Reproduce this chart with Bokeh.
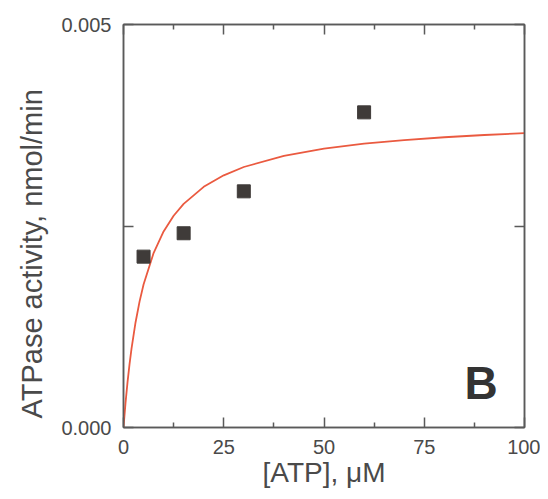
from bokeh.plotting import figure
from bokeh.models import (LinearAxis, FixedTicker, CustomJSTickFormatter, Range1d,
                          Label, Title, ColumnDataSource)
from bokeh.embed import file_html
from bokeh.resources import INLINE

# Measured data points
atp_um = [5, 15, 30, 60]
activity = [0.00212, 0.00241, 0.00293, 0.00391]

# Fitted curve
curve_x = [0, 0.5, 1, 1.5, 2, 3, 4, 5, 7.5, 10, 12.5, 15, 20, 25, 30, 40, 50, 60, 70, 80, 90, 100]
curve_y = [0.0, 0.000302, 0.000560, 0.000784, 0.000979, 0.001303, 0.001562, 0.001774,
           0.002164, 0.002432, 0.002627, 0.002775, 0.002986, 0.003129, 0.003232,
           0.003370, 0.003459, 0.003521, 0.003566, 0.003601, 0.003629, 0.003652]

x_major = [0, 25, 50, 75, 100]
x_minor = [12.5, 37.5, 62.5, 87.5]
y_major = [0, 0.0025, 0.005]

FONT = "Liberation Sans"
TXT = "#4a4a4a"
AX = "#5a5a5a"

p = figure(width=540, height=491, output_backend="svg", toolbar_location=None,
           x_range=Range1d(0, 100), y_range=Range1d(0, 0.005),
           x_axis_location=None, y_axis_location=None,
           min_border_left=123, min_border_right=16, min_border_top=24, min_border_bottom=64,
           frame_width=401, frame_height=403)
p.grid.visible = False
p.outline_line_color = AX
p.outline_line_width = 1.5
p.background_fill_color = "white"
p.border_fill_color = "white"

xt = FixedTicker(ticks=x_major, minor_ticks=x_minor)
yt = FixedTicker(ticks=y_major, minor_ticks=[])
yfmt = CustomJSTickFormatter(code="""
if (Math.abs(tick) < 1e-9) return '0.000';
if (Math.abs(tick - 0.005) < 1e-9) return '0.005';
return '';
""")

def style(ax, show_labels):
    ax.axis_line_color = AX
    ax.axis_line_width = 1.5
    ax.major_tick_line_color = AX
    ax.minor_tick_line_color = AX
    ax.major_tick_line_width = 1.5
    ax.minor_tick_line_width = 1.5
    ax.major_tick_in = 10
    ax.major_tick_out = 0
    ax.minor_tick_in = 5
    ax.minor_tick_out = 0
    ax.major_label_text_font = FONT
    ax.major_label_text_color = TXT
    ax.axis_label_text_font = FONT
    ax.axis_label_text_color = TXT
    ax.axis_label_text_font_style = "normal"
    if not show_labels:
        ax.major_label_text_font_size = "0px"
        ax.major_label_text_alpha = 0

bottom = LinearAxis(ticker=xt, axis_label="[ATP], μM")
style(bottom, True)
bottom.major_label_text_font_size = "20px"
bottom.major_label_standoff = 12
bottom.axis_label_text_font_size = "28px"
bottom.axis_label_standoff = 0
p.add_layout(bottom, "below")

top = LinearAxis(ticker=xt)
style(top, False)
p.add_layout(top, "above")

left = LinearAxis(ticker=yt, formatter=yfmt)
style(left, True)
left.major_label_text_font_size = "20px"
left.major_label_standoff = 12
p.add_layout(left, "left")

ylab = Title(text="ATPase activity, nmol/min", align="left", offset=9,
             text_font=FONT, text_font_size="29px", text_font_style="normal",
             text_color=TXT, standoff=21)
p.add_layout(ylab, "left")

right = LinearAxis(ticker=yt)
style(right, False)
p.add_layout(right, "right")

src_pts = ColumnDataSource(dict(x=atp_um, y=activity))
src_fit = ColumnDataSource(dict(x=curve_x, y=curve_y))

p.line("x", "y", source=src_fit, line_color="#ea5a40", line_width=1.8)
p.scatter("x", "y", source=src_pts, marker="square", size=13,
          fill_color="#3f3b39", line_color="#3f3b39")

p.add_layout(Label(x=341, y=19, x_units="screen", y_units="screen", text="B",
                   text_font=FONT, text_font_size="46px", text_font_style="bold",
                   text_color="#333333"))

open("out.html", "w").write(file_html(p, INLINE))
